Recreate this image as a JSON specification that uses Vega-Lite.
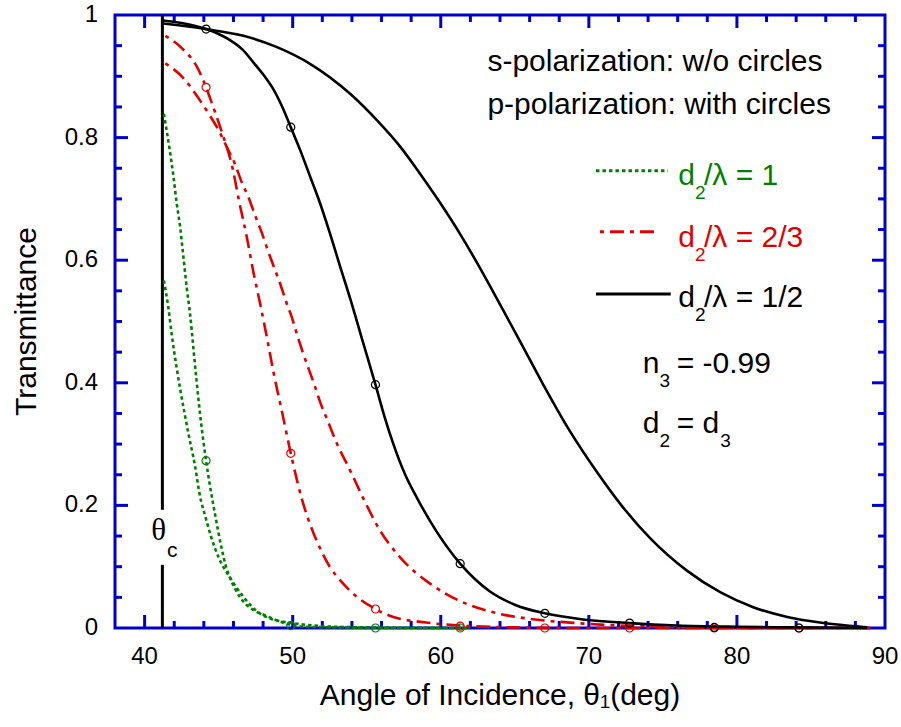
{
  "$schema": "https://vega.github.io/schema/vega-lite/v6.json",
  "width": 770,
  "height": 613,
  "autosize": {"type": "none"},
  "padding": {"left": 115, "top": 15, "right": 16, "bottom": 99},
  "background": "#ffffff",
  "config": {
    "view": {"stroke": "#0000cc", "strokeWidth": 3, "fill": null},
    "font": "Liberation Sans"
  },
  "datasets": {
    "xt": [
      {"v":40,"m":"M"},{"v":50,"m":"M"},{"v":60,"m":"M"},{"v":70,"m":"M"},{"v":80,"m":"M"},
      {"v":42,"m":"m"},{"v":44,"m":"m"},{"v":46,"m":"m"},{"v":48,"m":"m"},{"v":52,"m":"m"},{"v":54,"m":"m"},{"v":56,"m":"m"},{"v":58,"m":"m"},{"v":62,"m":"m"},{"v":64,"m":"m"},{"v":66,"m":"m"},{"v":68,"m":"m"},{"v":72,"m":"m"},{"v":74,"m":"m"},{"v":76,"m":"m"},{"v":78,"m":"m"},{"v":82,"m":"m"},{"v":84,"m":"m"},{"v":86,"m":"m"},{"v":88,"m":"m"}
    ],
    "yt": [
      {"v":0.2,"m":"M"},{"v":0.4,"m":"M"},{"v":0.6,"m":"M"},{"v":0.8,"m":"M"},
      {"v":0.05,"m":"m"},{"v":0.1,"m":"m"},{"v":0.15,"m":"m"},{"v":0.25,"m":"m"},{"v":0.3,"m":"m"},{"v":0.35,"m":"m"},{"v":0.45,"m":"m"},{"v":0.5,"m":"m"},{"v":0.55,"m":"m"},{"v":0.65,"m":"m"},{"v":0.7,"m":"m"},{"v":0.75,"m":"m"},{"v":0.85,"m":"m"},{"v":0.9,"m":"m"},{"v":0.95,"m":"m"}
    ],
    "xl": [
      {"v":40,"t":"40"},{"v":50,"t":"50"},{"v":60,"t":"60"},{"v":70,"t":"70"},{"v":80,"t":"80"},{"v":90,"t":"90"}
    ],
    "yl": [
      {"v":0,"t":"0"},{"v":0.2,"t":"0.2"},{"v":0.4,"t":"0.4"},{"v":0.6,"t":"0.6"},{"v":0.8,"t":"0.8"},{"v":1,"t":"1"}
    ],
    "titles": [
      {"x":64,"y":-0.111,"a":0,"t":"Angle of Incidence, θ₁(deg)"},
      {"x":32.06,"y":0.5,"a":270,"t":"Transmittance"}
    ],
    "curves": [
      {"g":"green","pol":"p","x":41.3,"y":0.839},{"g":"green","pol":"p","x":41.7,"y":0.779},{"g":"green","pol":"p","x":41.94,"y":0.738},{"g":"green","pol":"p","x":42.16,"y":0.694},{"g":"green","pol":"p","x":42.4,"y":0.654},{"g":"green","pol":"p","x":42.6,"y":0.61},{"g":"green","pol":"p","x":42.84,"y":0.556},{"g":"green","pol":"p","x":43.07,"y":0.512},{"g":"green","pol":"p","x":43.3,"y":0.455},{"g":"green","pol":"p","x":43.5,"y":0.405},{"g":"green","pol":"p","x":43.74,"y":0.35},{"g":"green","pol":"p","x":44.15,"y":0.273},{"g":"green","pol":"p","x":44.4,"y":0.234},{"g":"green","pol":"p","x":44.76,"y":0.185},{"g":"green","pol":"p","x":45.2,"y":0.13},{"g":"green","pol":"p","x":45.5,"y":0.1},{"g":"green","pol":"p","x":45.8,"y":0.08},{"g":"green","pol":"p","x":46.45,"y":0.05},{"g":"green","pol":"p","x":47.3,"y":0.03},{"g":"green","pol":"p","x":48.1,"y":0.021},{"g":"green","pol":"p","x":49,"y":0.012},{"g":"green","pol":"p","x":49.87,"y":0.005},{"g":"green","pol":"p","x":51,"y":0.002},{"g":"green","pol":"p","x":53,"y":0.001},{"g":"green","pol":"p","x":56,"y":0},{"g":"green","pol":"p","x":62,"y":0},
      {"g":"green","pol":"s","x":41.3,"y":0.567},{"g":"green","pol":"s","x":41.6,"y":0.523},{"g":"green","pol":"s","x":41.83,"y":0.479},{"g":"green","pol":"s","x":42.16,"y":0.425},{"g":"green","pol":"s","x":42.4,"y":0.39},{"g":"green","pol":"s","x":42.7,"y":0.35},{"g":"green","pol":"s","x":42.95,"y":0.318},{"g":"green","pol":"s","x":43.4,"y":0.265},{"g":"green","pol":"s","x":43.74,"y":0.215},{"g":"green","pol":"s","x":44.1,"y":0.182},{"g":"green","pol":"s","x":44.5,"y":0.148},{"g":"green","pol":"s","x":45,"y":0.115},{"g":"green","pol":"s","x":45.77,"y":0.082},{"g":"green","pol":"s","x":46.67,"y":0.051},{"g":"green","pol":"s","x":47.6,"y":0.027},{"g":"green","pol":"s","x":48.3,"y":0.017},{"g":"green","pol":"s","x":49,"y":0.012},{"g":"green","pol":"s","x":50.3,"y":0.007},{"g":"green","pol":"s","x":52,"y":0.003},{"g":"green","pol":"s","x":55,"y":0.001},{"g":"green","pol":"s","x":62,"y":0},
      {"g":"red","pol":"p","x":41.4,"y":0.966},{"g":"red","pol":"p","x":42.6,"y":0.944},{"g":"red","pol":"p","x":43.5,"y":0.917},{"g":"red","pol":"p","x":44.15,"y":0.882},{"g":"red","pol":"p","x":44.5,"y":0.859},{"g":"red","pol":"p","x":45.2,"y":0.81},{"g":"red","pol":"p","x":45.95,"y":0.749},{"g":"red","pol":"p","x":46.4,"y":0.694},{"g":"red","pol":"p","x":46.9,"y":0.638},{"g":"red","pol":"p","x":47.35,"y":0.58},{"g":"red","pol":"p","x":47.82,"y":0.527},{"g":"red","pol":"p","x":48.29,"y":0.47},{"g":"red","pol":"p","x":48.72,"y":0.415},{"g":"red","pol":"p","x":49.24,"y":0.357},{"g":"red","pol":"p","x":49.87,"y":0.285},{"g":"red","pol":"p","x":50.28,"y":0.242},{"g":"red","pol":"p","x":50.6,"y":0.212},{"g":"red","pol":"p","x":51.06,"y":0.177},{"g":"red","pol":"p","x":51.4,"y":0.155},{"g":"red","pol":"p","x":51.85,"y":0.13},{"g":"red","pol":"p","x":52.5,"y":0.1},{"g":"red","pol":"p","x":53.2,"y":0.078},{"g":"red","pol":"p","x":53.9,"y":0.06},{"g":"red","pol":"p","x":55.59,"y":0.031},{"g":"red","pol":"p","x":56.8,"y":0.018},{"g":"red","pol":"p","x":59,"y":0.009},{"g":"red","pol":"p","x":61.31,"y":0.004},{"g":"red","pol":"p","x":65,"y":0.001},{"g":"red","pol":"p","x":70,"y":0},{"g":"red","pol":"p","x":89,"y":0},
      {"g":"red","pol":"s","x":41.4,"y":0.921},{"g":"red","pol":"s","x":42.7,"y":0.895},{"g":"red","pol":"s","x":43.5,"y":0.869},{"g":"red","pol":"s","x":44.3,"y":0.84},{"g":"red","pol":"s","x":45,"y":0.812},{"g":"red","pol":"s","x":45.6,"y":0.782},{"g":"red","pol":"s","x":46.1,"y":0.757},{"g":"red","pol":"s","x":46.56,"y":0.727},{"g":"red","pol":"s","x":47.01,"y":0.703},{"g":"red","pol":"s","x":47.46,"y":0.673},{"g":"red","pol":"s","x":47.91,"y":0.645},{"g":"red","pol":"s","x":48.29,"y":0.618},{"g":"red","pol":"s","x":48.7,"y":0.591},{"g":"red","pol":"s","x":49.15,"y":0.562},{"g":"red","pol":"s","x":49.53,"y":0.534},{"g":"red","pol":"s","x":49.94,"y":0.507},{"g":"red","pol":"s","x":50.3,"y":0.478},{"g":"red","pol":"s","x":50.65,"y":0.452},{"g":"red","pol":"s","x":51.06,"y":0.424},{"g":"red","pol":"s","x":51.46,"y":0.397},{"g":"red","pol":"s","x":51.89,"y":0.366},{"g":"red","pol":"s","x":52.23,"y":0.346},{"g":"red","pol":"s","x":53,"y":0.3},{"g":"red","pol":"s","x":53.9,"y":0.256},{"g":"red","pol":"s","x":54.9,"y":0.205},{"g":"red","pol":"s","x":55.8,"y":0.163},{"g":"red","pol":"s","x":57.3,"y":0.114},{"g":"red","pol":"s","x":59.3,"y":0.072},{"g":"red","pol":"s","x":61.3,"y":0.044},{"g":"red","pol":"s","x":63.8,"y":0.024},{"g":"red","pol":"s","x":66,"y":0.015},{"g":"red","pol":"s","x":69.2,"y":0.008},{"g":"red","pol":"s","x":72,"y":0.004},{"g":"red","pol":"s","x":75,"y":0.002},{"g":"red","pol":"s","x":80,"y":0},{"g":"red","pol":"s","x":89,"y":0},
      {"g":"black","pol":"p","x":41.25,"y":0.991},{"g":"black","pol":"p","x":42.5,"y":0.987},{"g":"black","pol":"p","x":43.3,"y":0.983},{"g":"black","pol":"p","x":44.15,"y":0.977},{"g":"black","pol":"p","x":45,"y":0.969},{"g":"black","pol":"p","x":45.77,"y":0.959},{"g":"black","pol":"p","x":46.6,"y":0.944},{"g":"black","pol":"p","x":47.37,"y":0.922},{"g":"black","pol":"p","x":48.1,"y":0.9},{"g":"black","pol":"p","x":48.72,"y":0.878},{"g":"black","pol":"p","x":49.3,"y":0.85},{"g":"black","pol":"p","x":49.87,"y":0.817},{"g":"black","pol":"p","x":50.5,"y":0.78},{"g":"black","pol":"p","x":51.2,"y":0.735},{"g":"black","pol":"p","x":51.76,"y":0.699},{"g":"black","pol":"p","x":52.5,"y":0.645},{"g":"black","pol":"p","x":53.2,"y":0.59},{"g":"black","pol":"p","x":53.9,"y":0.536},{"g":"black","pol":"p","x":54.7,"y":0.47},{"g":"black","pol":"p","x":55.59,"y":0.397},{"g":"black","pol":"p","x":56.2,"y":0.345},{"g":"black","pol":"p","x":56.8,"y":0.3},{"g":"black","pol":"p","x":57.6,"y":0.25},{"g":"black","pol":"p","x":58.4,"y":0.212},{"g":"black","pol":"p","x":59.7,"y":0.158},{"g":"black","pol":"p","x":61.31,"y":0.105},{"g":"black","pol":"p","x":62.3,"y":0.08},{"g":"black","pol":"p","x":63.3,"y":0.06},{"g":"black","pol":"p","x":65,"y":0.038},{"g":"black","pol":"p","x":67.03,"y":0.024},{"g":"black","pol":"p","x":69.6,"y":0.014},{"g":"black","pol":"p","x":72.75,"y":0.008},{"g":"black","pol":"p","x":76,"y":0.004},{"g":"black","pol":"p","x":80,"y":0.002},{"g":"black","pol":"p","x":84,"y":0.001},{"g":"black","pol":"p","x":88.8,"y":0},
      {"g":"black","pol":"s","x":41.25,"y":0.986},{"g":"black","pol":"s","x":44.15,"y":0.977},{"g":"black","pol":"s","x":46.67,"y":0.966},{"g":"black","pol":"s","x":48.9,"y":0.948},{"g":"black","pol":"s","x":51.2,"y":0.92},{"g":"black","pol":"s","x":53.9,"y":0.871},{"g":"black","pol":"s","x":55.7,"y":0.828},{"g":"black","pol":"s","x":57.3,"y":0.784},{"g":"black","pol":"s","x":58.6,"y":0.741},{"g":"black","pol":"s","x":60,"y":0.692},{"g":"black","pol":"s","x":61.3,"y":0.643},{"g":"black","pol":"s","x":62.7,"y":0.585},{"g":"black","pol":"s","x":64,"y":0.528},{"g":"black","pol":"s","x":65.3,"y":0.47},{"g":"black","pol":"s","x":66.9,"y":0.398},{"g":"black","pol":"s","x":68.7,"y":0.322},{"g":"black","pol":"s","x":70.5,"y":0.256},{"g":"black","pol":"s","x":72.2,"y":0.2},{"g":"black","pol":"s","x":74.2,"y":0.145},{"g":"black","pol":"s","x":76.6,"y":0.094},{"g":"black","pol":"s","x":78.9,"y":0.058},{"g":"black","pol":"s","x":81.1,"y":0.034},{"g":"black","pol":"s","x":83.4,"y":0.018},{"g":"black","pol":"s","x":85.6,"y":0.009},{"g":"black","pol":"s","x":87.9,"y":0.003},{"g":"black","pol":"s","x":88.8,"y":0.001}
    ],
    "circles": [
      {"c":"green","x":44.15,"y":0.273},{"c":"green","x":49.87,"y":0.004},{"c":"green","x":55.59,"y":0},{"c":"green","x":61.31,"y":0},
      {"c":"red","x":44.15,"y":0.882},{"c":"red","x":49.87,"y":0.285},{"c":"red","x":55.59,"y":0.031},{"c":"red","x":61.31,"y":0.003},{"c":"red","x":67.03,"y":0},{"c":"red","x":72.75,"y":0},{"c":"red","x":78.47,"y":0},{"c":"red","x":84.19,"y":0},
      {"c":"black","x":44.15,"y":0.977},{"c":"black","x":49.87,"y":0.817},{"c":"black","x":55.59,"y":0.397},{"c":"black","x":61.31,"y":0.105},{"c":"black","x":67.03,"y":0.024},{"c":"black","x":72.75,"y":0.008},{"c":"black","x":78.47,"y":0.001},{"c":"black","x":84.19,"y":0}
    ],
    "crit": [
      {"x":41.2,"y":0,"y2":0.103},{"x":41.2,"y":0.193,"y2":1}
    ],
    "legendLines": [
      {"c":"green","x":70.48,"x2":75.34,"y":0.746},
      {"c":"red","x":70.75,"x2":74.74,"y":0.6465},
      {"c":"black","x":70.48,"x2":75.53,"y":0.545}
    ],
    "labels": [
      {"c":"black","x":63.15,"y":0.908,"t":"s-polarization: w/o circles"},
      {"c":"black","x":63.15,"y":0.838,"t":"p-polarization: with circles"}
    ],
    "ann": [
      {"c":"green","k":"a","x":76.04,"y":0.723,"pre":"d","sub":"2","rest":"/λ = 1","sub2":""},
      {"c":"red","k":"a","x":76.04,"y":0.622,"pre":"d","sub":"2","rest":"/λ = 2/3","sub2":""},
      {"c":"black","k":"a","x":76.04,"y":0.524,"pre":"d","sub":"2","rest":"/λ = 1/2","sub2":""},
      {"c":"black","k":"b","x":73.64,"y":0.4165,"pre":"n","sub":"3","rest":"= -0.99","sub2":""},
      {"c":"black","k":"b","x":73.64,"y":0.3186,"pre":"d","sub":"2","rest":"= d","sub2":"3"}
    ],
    "theta": [{"x":40.95,"y":0.158,"t":"θ"}],
    "sub": [{"x":41.86,"y":0.125,"t":"c"}]
  },
  "layer": [
    {
      "data": {"name": "circles"},
      "mark": {"type": "point", "opacity": 0},
      "encoding": {
        "x": {"field": "x", "type": "quantitative", "scale": {"domain": [38, 90], "nice": false, "zero": false}, "axis": null},
        "y": {"field": "y", "type": "quantitative", "scale": {"domain": [0, 1], "nice": false}, "axis": null}
      }
    },
    {
      "data": {"name": "xt"},
      "transform": [{"filter": "datum.m === 'M'"}],
      "mark": {"type": "rule", "color": "#0000cc", "strokeWidth": 3, "y2Offset": -13},
      "encoding": {"x": {"field": "v", "type": "quantitative", "axis": null}, "y": {"datum": 0, "type": "quantitative", "axis": null}, "y2": {"datum": 0}}
    },
    {
      "data": {"name": "xt"},
      "transform": [{"filter": "datum.m === 'm'"}],
      "mark": {"type": "rule", "color": "#0000cc", "strokeWidth": 3, "y2Offset": -7},
      "encoding": {"x": {"field": "v", "type": "quantitative", "axis": null}, "y": {"datum": 0, "type": "quantitative", "axis": null}, "y2": {"datum": 0}}
    },
    {
      "data": {"name": "xt"},
      "transform": [{"filter": "datum.m === 'M'"}],
      "mark": {"type": "rule", "color": "#0000cc", "strokeWidth": 3, "y2Offset": 13},
      "encoding": {"x": {"field": "v", "type": "quantitative", "axis": null}, "y": {"datum": 1, "type": "quantitative", "axis": null}, "y2": {"datum": 1}}
    },
    {
      "data": {"name": "xt"},
      "transform": [{"filter": "datum.m === 'm'"}],
      "mark": {"type": "rule", "color": "#0000cc", "strokeWidth": 3, "y2Offset": 7},
      "encoding": {"x": {"field": "v", "type": "quantitative", "axis": null}, "y": {"datum": 1, "type": "quantitative", "axis": null}, "y2": {"datum": 1}}
    },
    {
      "data": {"name": "yt"},
      "transform": [{"filter": "datum.m === 'M'"}],
      "mark": {"type": "rule", "color": "#0000cc", "strokeWidth": 3, "x2Offset": 13},
      "encoding": {"y": {"field": "v", "type": "quantitative", "axis": null}, "x": {"datum": 38, "type": "quantitative", "axis": null}, "x2": {"datum": 38}}
    },
    {
      "data": {"name": "yt"},
      "transform": [{"filter": "datum.m === 'm'"}],
      "mark": {"type": "rule", "color": "#0000cc", "strokeWidth": 3, "x2Offset": 7},
      "encoding": {"y": {"field": "v", "type": "quantitative", "axis": null}, "x": {"datum": 38, "type": "quantitative", "axis": null}, "x2": {"datum": 38}}
    },
    {
      "data": {"name": "yt"},
      "transform": [{"filter": "datum.m === 'M'"}],
      "mark": {"type": "rule", "color": "#0000cc", "strokeWidth": 3, "x2Offset": -13},
      "encoding": {"y": {"field": "v", "type": "quantitative", "axis": null}, "x": {"datum": 90, "type": "quantitative", "axis": null}, "x2": {"datum": 90}}
    },
    {
      "data": {"name": "yt"},
      "transform": [{"filter": "datum.m === 'm'"}],
      "mark": {"type": "rule", "color": "#0000cc", "strokeWidth": 3, "x2Offset": -7},
      "encoding": {"y": {"field": "v", "type": "quantitative", "axis": null}, "x": {"datum": 90, "type": "quantitative", "axis": null}, "x2": {"datum": 90}}
    },
    {
      "data": {"name": "xl"},
      "mark": {"type": "text", "align": "center", "baseline": "top", "fontSize": 24, "font": "Liberation Sans", "color": "#000000", "dy": 17},
      "encoding": {"x": {"field": "v", "type": "quantitative", "axis": null}, "y": {"datum": 0, "type": "quantitative", "axis": null}, "text": {"field": "t"}}
    },
    {
      "data": {"name": "yl"},
      "mark": {"type": "text", "align": "right", "baseline": "middle", "fontSize": 24, "font": "Liberation Sans", "color": "#000000", "dx": -17},
      "encoding": {"y": {"field": "v", "type": "quantitative", "axis": null}, "x": {"datum": 38, "type": "quantitative", "axis": null}, "text": {"field": "t"}}
    },
    {
      "data": {"name": "titles"},
      "mark": {"type": "text", "align": "center", "baseline": "middle", "fontSize": 30, "font": "Liberation Sans", "color": "#000000"},
      "encoding": {"x": {"field": "x", "type": "quantitative", "axis": null}, "y": {"field": "y", "type": "quantitative", "axis": null}, "text": {"field": "t"}, "angle": {"field": "a", "type": "quantitative", "scale": null}}
    },
    {
      "data": {"name": "crit"},
      "mark": {"type": "rule", "color": "#000000", "strokeWidth": 3},
      "encoding": {
        "x": {"field": "x", "type": "quantitative", "axis": null},
        "y": {"field": "y", "type": "quantitative", "axis": null},
        "y2": {"field": "y2"}
      }
    },
    {
      "data": {"name": "curves"},
      "transform": [{"filter": "datum.g === 'green'"}],
      "mark": {"type": "line", "color": "#008000", "strokeWidth": 2.6, "strokeDash": [3.5, 3], "interpolate": "monotone"},
      "encoding": {
        "x": {"field": "x", "type": "quantitative", "axis": null},
        "y": {"field": "y", "type": "quantitative", "axis": null},
        "detail": {"field": "pol"}
      }
    },
    {
      "data": {"name": "curves"},
      "transform": [{"filter": "datum.g === 'red'"}],
      "mark": {"type": "line", "color": "#e00000", "strokeWidth": 2.6, "strokeDash": [4, 6, 14, 6], "interpolate": "monotone"},
      "encoding": {
        "x": {"field": "x", "type": "quantitative", "axis": null},
        "y": {"field": "y", "type": "quantitative", "axis": null},
        "detail": {"field": "pol"}
      }
    },
    {
      "data": {"name": "curves"},
      "transform": [{"filter": "datum.g === 'black'"}],
      "mark": {"type": "line", "color": "#000000", "strokeWidth": 2.6, "interpolate": "monotone"},
      "encoding": {
        "x": {"field": "x", "type": "quantitative", "axis": null},
        "y": {"field": "y", "type": "quantitative", "axis": null},
        "detail": {"field": "pol"}
      }
    },
    {
      "data": {"name": "circles"},
      "mark": {"type": "point", "shape": "circle", "filled": false, "size": 64, "strokeWidth": 1.2, "opacity": 1},
      "encoding": {
        "x": {"field": "x", "type": "quantitative", "axis": null},
        "y": {"field": "y", "type": "quantitative", "axis": null},
        "color": {"field": "c", "type": "nominal", "scale": {"domain": ["green", "red", "black"], "range": ["#008000", "#e00000", "#000000"]}, "legend": null}
      }
    },
    {
      "data": {"name": "legendLines"},
      "mark": {"type": "rule", "strokeWidth": 3},
      "encoding": {
        "x": {"field": "x", "type": "quantitative", "axis": null},
        "x2": {"field": "x2"},
        "y": {"field": "y", "type": "quantitative", "axis": null},
        "color": {"field": "c", "type": "nominal", "legend": null},
        "strokeDash": {"field": "c", "type": "nominal", "scale": {"domain": ["green", "red", "black"], "range": [[3.5, 3], [4, 6, 14, 6], [1, 0]]}, "legend": null}
      }
    },
    {
      "data": {"name": "labels"},
      "mark": {"type": "text", "align": "left", "baseline": "alphabetic", "fontSize": 30, "font": "Liberation Sans"},
      "encoding": {
        "x": {"field": "x", "type": "quantitative", "axis": null},
        "y": {"field": "y", "type": "quantitative", "axis": null},
        "text": {"field": "t"},
        "color": {"field": "c", "type": "nominal", "legend": null}
      }
    },
    {
      "data": {"name": "ann"},
      "mark": {"type": "text", "align": "left", "baseline": "alphabetic", "fontSize": 30, "font": "Liberation Sans"},
      "encoding": {
        "x": {"field": "x", "type": "quantitative", "axis": null},
        "y": {"field": "y", "type": "quantitative", "axis": null},
        "text": {"field": "pre"},
        "color": {"field": "c", "type": "nominal", "legend": null}
      }
    },
    {
      "data": {"name": "ann"},
      "mark": {"type": "text", "align": "left", "baseline": "alphabetic", "fontSize": 19, "font": "Liberation Sans", "dx": 16.7, "dy": 14.5},
      "encoding": {
        "x": {"field": "x", "type": "quantitative", "axis": null},
        "y": {"field": "y", "type": "quantitative", "axis": null},
        "text": {"field": "sub"},
        "color": {"field": "c", "type": "nominal", "legend": null}
      }
    },
    {
      "data": {"name": "ann"},
      "transform": [{"filter": "datum.k === 'a'"}],
      "mark": {"type": "text", "align": "left", "baseline": "alphabetic", "fontSize": 30, "font": "Liberation Sans", "dx": 25.7},
      "encoding": {
        "x": {"field": "x", "type": "quantitative", "axis": null},
        "y": {"field": "y", "type": "quantitative", "axis": null},
        "text": {"field": "rest"},
        "color": {"field": "c", "type": "nominal", "legend": null}
      }
    },
    {
      "data": {"name": "ann"},
      "transform": [{"filter": "datum.k === 'b'"}],
      "mark": {"type": "text", "align": "left", "baseline": "alphabetic", "fontSize": 30, "font": "Liberation Sans", "dx": 34},
      "encoding": {
        "x": {"field": "x", "type": "quantitative", "axis": null},
        "y": {"field": "y", "type": "quantitative", "axis": null},
        "text": {"field": "rest"},
        "color": {"field": "c", "type": "nominal", "legend": null}
      }
    },
    {
      "data": {"name": "ann"},
      "mark": {"type": "text", "align": "left", "baseline": "alphabetic", "fontSize": 19, "font": "Liberation Sans", "dx": 77.5, "dy": 14.5},
      "encoding": {
        "x": {"field": "x", "type": "quantitative", "axis": null},
        "y": {"field": "y", "type": "quantitative", "axis": null},
        "text": {"field": "sub2"},
        "color": {"field": "c", "type": "nominal", "legend": null}
      }
    },
    {
      "data": {"name": "theta"},
      "mark": {"type": "text", "align": "center", "baseline": "middle", "fontSize": 31, "font": "Liberation Serif", "color": "#000000"},
      "encoding": {
        "x": {"field": "x", "type": "quantitative", "axis": null},
        "y": {"field": "y", "type": "quantitative", "axis": null},
        "text": {"field": "t"}
      }
    },
    {
      "data": {"name": "sub"},
      "mark": {"type": "text", "align": "center", "baseline": "middle", "fontSize": 21, "font": "Liberation Sans", "color": "#000000"},
      "encoding": {
        "x": {"field": "x", "type": "quantitative", "axis": null},
        "y": {"field": "y", "type": "quantitative", "axis": null},
        "text": {"field": "t"}
      }
    }
  ]
}
